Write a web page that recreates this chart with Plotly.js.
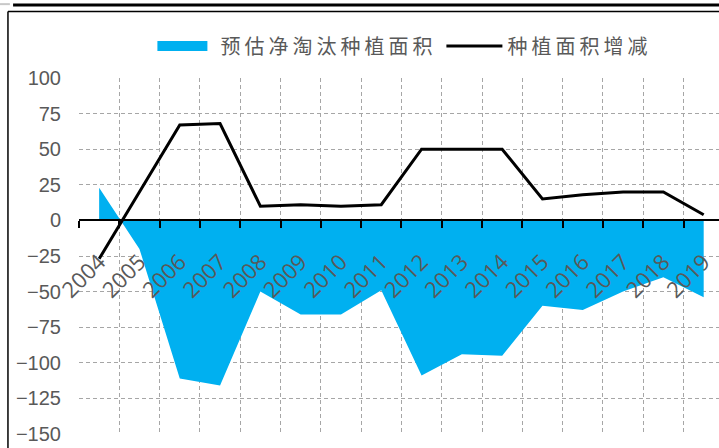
<!DOCTYPE html>
<html>
<head>
<meta charset="utf-8">
<script src="https://cdn.plot.ly/plotly-3.0.1.min.js"></script>
<style>
  html, body { margin: 0; padding: 0; background: #ffffff; overflow: hidden; }
  #chart { width: 719px; height: 448px; }
  .legendtext { letter-spacing: 4px; }
</style>
</head>
<body>
<div id="chart"></div>
<script>
// Years (categories)
const years = ['2004','2005','2006','2007','2008','2009','2010','2011',
               '2012','2013','2014','2015','2016','2017','2018','2019'];
// 预估净淘汰种植面积 (area)
const netEliminated = [23, -20, -111, -116, -50, -66, -66, -49,
                       -109, -94, -95, -60, -63, -50, -40, -54];
// 种植面积增减 (line)
const areaChange = [-27, 20, 67, 68, 10, 11, 10, 11,
                    50, 50, 50, 15, 18, 20, 20, 4];
// Y tick values
const yTicks = [100, 75, 50, 25, 0, -25, -50, -75, -100, -125, -150];

const gray = '#595959';
const gridCol = '#a6a6a6';
const legendSymbolWidth = 56;

const traces = [
  {
    type: 'scatter', mode: 'none', name: '预估净淘汰种植面积',
    x: years, y: netEliminated, fill: 'tozeroy', fillcolor: '#00B0F0',
    hoverinfo: 'x+y'
  },
  {
    type: 'scatter', mode: 'lines', name: '种植面积增减',
    x: years, y: areaChange, line: {color: '#000000', width: 3}
  }
];

const layout = {
  width: 719, height: 448,
  margin: {l: 79, r: 0, t: 78, b: 13.5, pad: 0},
  paper_bgcolor: '#ffffff', plot_bgcolor: '#ffffff',
  showlegend: true,
  legend: {
    orientation: 'h', x: 0.51, xanchor: 'center', y: 1.09, yanchor: 'middle',
    font: {family: '"Noto Sans CJK SC", sans-serif', size: 20, color: gray},
    itemwidth: legendSymbolWidth, tracegroupgap: 0, bgcolor: 'rgba(0,0,0,0)'
  },
  xaxis: {
    type: 'category', range: [-0.5, 15.38],
    tickson: 'boundaries', showgrid: true, gridcolor: gridCol, gridwidth: 1, griddash: '4px,3px',
    ticks: 'outside', ticklen: 7, tickwidth: 2, tickcolor: '#000000',
    showline: true, linecolor: '#000000', linewidth: 2,
    anchor: 'free', position: 0.6,
    tickangle: -45, ticklabelstandoff: 19,
    tickfont: {family: '"Open Sans", sans-serif', size: 22, color: gray},
    zeroline: false, fixedrange: true
  },
  yaxis: {
    range: [-150, 100], tickvals: yTicks,
    showgrid: true, gridcolor: gridCol, gridwidth: 1, griddash: '4px,3px',
    zeroline: false, showline: false, ticks: '',
    ticklabelstandoff: 17,
    tickfont: {family: '"Liberation Sans", Arial, sans-serif', size: 20, color: gray},
    fixedrange: true
  },
  shapes: [
    {type: 'line', xref: 'paper', yref: 'paper', x0: -0.103, x1: 1.0, y0: 1.2048, y1: 1.2048,
     line: {color: '#000000', width: 3}},
    {type: 'line', xref: 'paper', yref: 'paper', x0: -0.1234, x1: -0.108, y0: 1.2075, y1: 1.2075,
     line: {color: '#c8c8c8', width: 2}},
    {type: 'line', xref: 'paper', yref: 'paper', x0: -0.111, x1: 1.0, y0: 1.1865, y1: 1.1865,
     line: {color: '#000000', width: 1.5}},
    {type: 'line', xref: 'paper', yref: 'paper', x0: -0.111, x1: -0.111, y0: 1.1865, y1: -0.05,
     line: {color: '#000000', width: 1.5}}
  ]
};

Plotly.newPlot('chart', traces, layout, {displayModeBar: false, staticPlot: true}).then(function (gd) {
  // Make the area's legend swatch a solid block like the original
  const w = legendSymbolWidth - 6;
  gd.querySelectorAll('.legend .traces').forEach(function (tr, i) {
    if (i === 0) {
      tr.querySelectorAll('.legendfill path').forEach(function (p) {
        p.setAttribute('d', 'M3,-5h' + w + 'v10h-' + w + 'z');
      });
    }
  });
});
</script>
</body>
</html>
